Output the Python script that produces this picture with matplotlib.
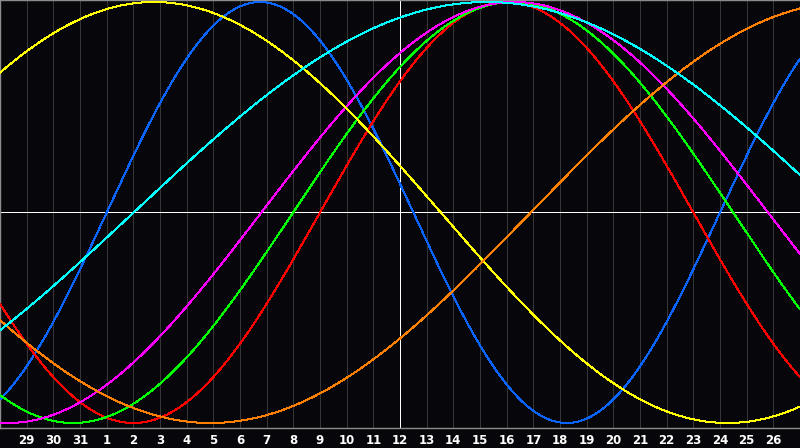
import numpy as np
import matplotlib
matplotlib.use("Agg")
import matplotlib.pyplot as plt

# Day labels along the bottom (previous month 29-31, then 1-26)
day_labels = [29, 30, 31] + list(range(1, 27))
day_positions = list(range(-2, 27))   # axis position of each label
center_day = 12                        # highlighted (today) day

# Biorhythm cycles: period (days) and day position of a peak
cycle_names = ["physical", "emotional", "intellectual", "intuitive",
               "aesthetic", "awareness", "spiritual"]
cycle_periods = [23, 28, 33, 38, 43, 48, 53]
cycle_peak_day = [6.75, 16.0, 16.24, 16.3, 2.78, 28.9, 15.26]
cycle_colors = ["#0a64ff", "#ff0000", "#00ff00", "#ff00ff",
                "#ffff00", "#ff8000", "#00ffff"]
draw_order = [1, 2, 3, 6, 5, 4, 0]

BG = "#07070b"
fig = plt.figure(figsize=(8.0, 4.48), dpi=100, facecolor=BG)
ax = fig.add_axes([0, 20 / 448, 1, 428 / 448])
ax.set_facecolor(BG)

x_lo, x_hi = -3, 27
ax.set_xlim(x_lo, x_hi)
ax.set_ylim(-1.0238, 1.0095)

# vertical day grid
for p in day_positions:
    ax.axvline(p, color="#363636", lw=0.72, zorder=1, antialiased=False)
ax.axvline(center_day, color="white", lw=0.72, zorder=2, antialiased=False)
ax.axhline(0, color="white", lw=0.72, zorder=2, antialiased=False)

x = np.linspace(x_lo, x_hi, 2400)
for i in draw_order:
    P = cycle_periods[i]
    y = np.cos(2 * np.pi * (x - cycle_peak_day[i]) / P)
    ax.plot(x, y, color=cycle_colors[i], lw=0.72, zorder=3 + i,
            antialiased=False, solid_capstyle="butt")

for s in ["left", "top", "bottom"]:
    ax.spines[s].set_color("#8c8c8c")
    ax.spines[s].set_linewidth(1.0)
ax.spines["right"].set_visible(False)

ax.set_yticks([])
ax.set_xticks(day_positions)
ax.set_xticklabels([str(d) for d in day_labels], color="white",
                   fontsize=8.5, fontweight="bold", family="DejaVu Sans")
ax.tick_params(axis="x", length=0, pad=4)

fig.savefig("out.png", dpi=100, facecolor=BG)
